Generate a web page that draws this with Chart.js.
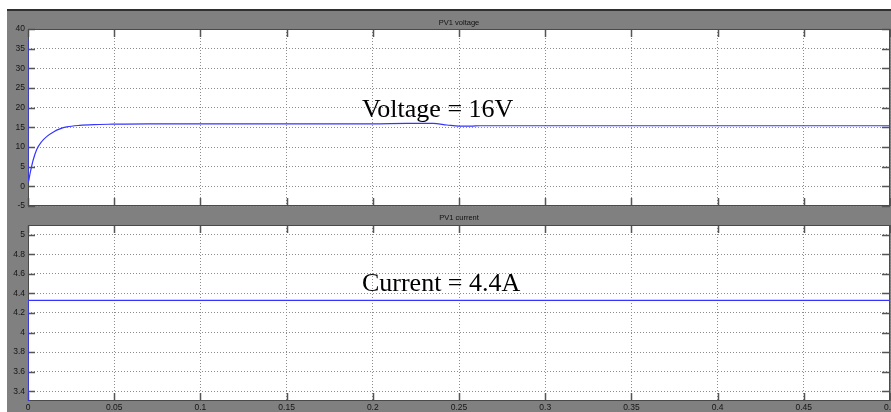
<!DOCTYPE html>
<html>
<head>
<meta charset="utf-8">
<script src="https://cdn.jsdelivr.net/npm/chart.js@4.4.1/dist/chart.umd.min.js"></script>
<style>
  html, body { margin: 0; padding: 0; background: #fff; width: 891px; height: 412px; overflow: hidden; }
  #frame { position: absolute; left: 7px; top: 9px; width: 884px; height: 401px; background: #808080; border-top: 2px solid #303030; }
  canvas { position: absolute; left: 0; top: 0; }
</style>
</head>
<body>
<div id="frame"></div>
<canvas id="voltage" width="891" height="412"></canvas>
<canvas id="current" width="891" height="412"></canvas>
<script>
// values
const timeTicks = [0, 0.05, 0.1, 0.15, 0.2, 0.25, 0.3, 0.35, 0.4, 0.45, 0.5];
const voltTicks = [-5, 0, 5, 10, 15, 20, 25, 30, 35, 40];
const currTicks = [3.4, 3.6, 3.8, 4, 4.2, 4.4, 4.6, 4.8, 5];

const voltTime = [0, 0.0001, 0.0012, 0.003, 0.005, 0.008, 0.011, 0.015, 0.0185, 0.0225, 0.03, 0.038, 0.049,
                  0.07, 0.1, 0.15, 0.2, 0.22, 0.235, 0.243, 0.25, 0.257, 0.262, 0.3, 0.4, 0.5];
const voltValues = [37.5, 1.0, 3.3, 6.7, 9.3, 11.4, 12.7, 13.9, 14.6, 15.1, 15.5, 15.7, 15.8,
                    15.9, 15.9, 15.9, 15.9, 16.0, 16.0, 15.6, 15.3, 15.3, 15.4, 15.4, 15.4, 15.4];
const currTime = [0, 0.0001, 0.5];
const currValues = [0, 4.33, 4.33];

const S = {
  line: '#3535ff', grid: '#8c8c8c', tick: '#555', label: '#151515',
  font: "'Liberation Sans', Arial, sans-serif", serif: "'Liberation Serif', 'Times New Roman', serif"
};

const fmt = v => String(+v.toFixed(3));

// white plot area, inner ticks, frame, titles and the note text
const scopeFrame = {
  id: 'scopeFrame',
  beforeDraw(chart) {
    const { ctx, chartArea: a } = chart;
    ctx.save();
    ctx.fillStyle = '#fff';
    ctx.fillRect(a.left, a.top, a.right - a.left, a.bottom - a.top);
    ctx.restore();
  },
  beforeDatasetsDraw(chart) {
    const { ctx, chartArea: a, scales: { x, y } } = chart;
    ctx.save();
    ctx.strokeStyle = S.tick;
    ctx.lineWidth = 1.5;
    ctx.beginPath();
    x.ticks.forEach(t => {
      const px = Math.round(x.getPixelForValue(t.value)) + 0.5;
      ctx.moveTo(px, a.top); ctx.lineTo(px, a.top + 8);
      ctx.moveTo(px, a.bottom); ctx.lineTo(px, a.bottom - 8);
    });
    y.ticks.forEach(t => {
      const py = Math.round(y.getPixelForValue(t.value)) + 0.5;
      ctx.moveTo(a.left, py); ctx.lineTo(a.left + 7, py);
      ctx.moveTo(a.right, py); ctx.lineTo(a.right - 8, py);
    });
    ctx.stroke();
    ctx.lineWidth = 1;
    ctx.strokeStyle = '#4a4a4a';
    ctx.strokeRect(a.left + 0.5, a.top + 0.5, a.right - a.left - 1, a.bottom - a.top - 1);
    ctx.restore();
  },
  afterDraw(chart, args, o) {
    const { ctx, chartArea: a, scales: { x, y } } = chart;
    ctx.save();
    ctx.fillStyle = '#111';
    ctx.font = '7.5px ' + S.font;
    ctx.textAlign = 'center';
    ctx.textBaseline = 'middle';
    ctx.fillText(o.title, (a.left + a.right) / 2, a.top - o.titleGap);

    ctx.fillStyle = '#000';
    ctx.font = '26px ' + S.serif;
    ctx.textAlign = 'left';
    ctx.textBaseline = 'alphabetic';
    ctx.fillText(o.note, x.getPixelForValue(o.noteAt[0]), y.getPixelForValue(o.noteAt[1]));
    ctx.restore();
  }
};

function scope(id, xs, ys, yTicks, yMin, yMax, top, bottomPad, showX, frame) {
  return new Chart(document.getElementById(id), {
    type: 'line',
    data: { datasets: [{
      data: xs.map((t, i) => ({ x: t, y: ys[i] })),
      borderColor: S.line, borderWidth: 1.2, pointRadius: 0,
      cubicInterpolationMode: 'monotone'
    }] },
    options: {
      responsive: false, animation: false, events: [],
      layout: { padding: { left: 0, top: top, right: 1, bottom: bottomPad } },
      plugins: { legend: { display: false }, tooltip: { enabled: false }, scopeFrame: frame },
      scales: {
        x: {
          type: 'linear', min: 0, max: 0.5,
          afterBuildTicks: s => { s.ticks = timeTicks.map(v => ({ value: v })); },
          afterFit: s => { s.height = showX ? 11 : 0; s.paddingLeft = 0; s.paddingRight = 0; },
          ticks: { display: showX, autoSkip: false, maxRotation: 0, padding: 2, callback: fmt,
                   color: S.label, font: { family: S.font, size: 8.5 } },
          grid: { color: S.grid, lineWidth: 1, drawTicks: false },
          border: { display: false, dash: [1, 2] }
        },
        y: {
          min: yMin, max: yMax,
          afterBuildTicks: s => { s.ticks = yTicks.map(v => ({ value: v })); },
          afterFit: s => { s.width = 28; s.paddingTop = 0; s.paddingBottom = 0; },
          ticks: { padding: 3, callback: fmt, color: S.label, font: { family: S.font, size: 8.5 } },
          grid: { color: S.grid, lineWidth: 1, drawTicks: false },
          border: { display: false, dash: [1, 2] }
        }
      }
    },
    plugins: [scopeFrame]
  });
}

scope('voltage', voltTime, voltValues, voltTicks, -5, 40, 29, 206, false,
      { title: 'PV1 voltage', titleGap: 6.5, note: 'Voltage = 16V', noteAt: [0.1937, 17.7] });
scope('current', currTime, currValues, currTicks, 3.3, 5.1, 225, 0, true,
      { title: 'PV1 current', titleGap: 7, note: 'Current = 4.4A', noteAt: [0.1937, 4.42] });
</script>
</body>
</html>
